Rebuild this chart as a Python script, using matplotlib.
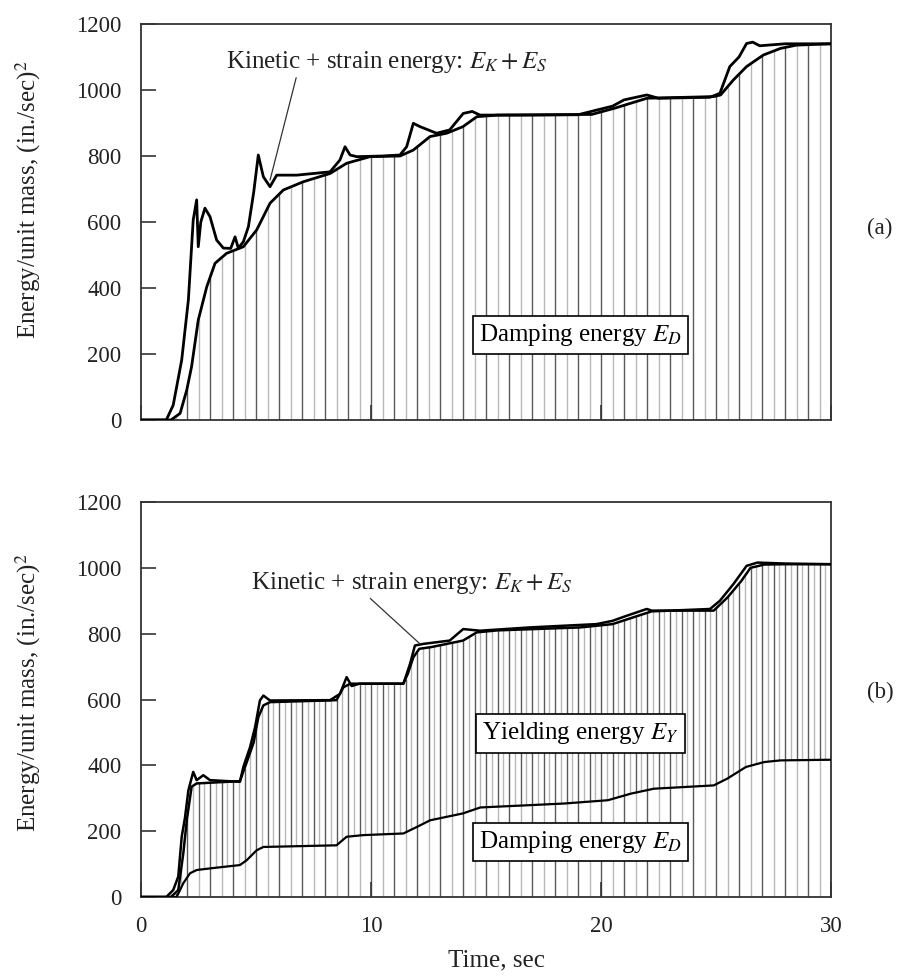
import numpy as np
import matplotlib
matplotlib.use("Agg")
import matplotlib.pyplot as plt

plt.rcParams['font.family'] = ['Liberation Serif', 'DejaVu Serif']
plt.rcParams['mathtext.fontset'] = 'stix'

# ---- panel (a): input energy and damping energy ----
ta_in = [0, 1.1, 1.4, 1.77, 2.06, 2.27, 2.42, 2.49, 2.6, 2.78, 3.0, 3.29, 3.58, 3.9, 4.09, 4.23,
         4.45, 4.67, 4.9, 5.1, 5.32, 5.61, 5.9, 6.77, 8.22, 8.65, 8.87, 9.09, 9.38, 10.5, 11.26,
         11.55, 11.84, 12.13, 12.85, 13.42, 14.01, 14.4, 14.74, 16.9, 19.0, 19.8, 20.5, 21.0,
         21.99, 22.5, 24.74, 25.17, 25.6, 26.0, 26.33, 26.6, 26.9, 28.0, 30.0]
Ea_in = [0, 0, 45, 182, 364, 606, 667, 525, 600, 642, 616, 545, 521, 520, 555, 521,
         540, 586, 690, 803, 737, 707, 742, 742, 752, 788, 828, 803, 798, 800, 803,
         828, 899, 889, 869, 879, 929, 935, 924, 924, 925, 939, 951, 970,
         985, 975, 978, 990, 1071, 1100, 1141, 1145, 1134, 1140, 1140]

ta_d = [0, 1.3, 1.70, 1.99, 2.20, 2.49, 2.86, 3.22, 3.72, 4.45, 5.03, 5.61, 6.19, 7.06, 8.22,
        8.94, 9.96, 11.26, 11.84, 12.57, 13.29, 14.0, 14.6, 15.5, 19.6, 20.6, 22.0, 24.9,
        25.2, 25.75, 26.33, 27.06, 27.8, 28.5, 30.0]
Ea_d = [0, 0, 20, 91, 162, 303, 404, 475, 505, 525, 576, 657, 697, 722, 747,
        778, 798, 800, 818, 859, 869, 889, 919, 924, 926, 945, 975, 980,
        985, 1030, 1071, 1106, 1126, 1136, 1140]

# ---- panel (b): input energy, damping + yielding energy, damping energy ----
tb_in = [0, 1.1, 1.4, 1.62, 1.77, 1.91, 2.06, 2.27, 2.42, 2.71, 3.0, 4.3, 4.45, 4.74, 4.96,
         5.17, 5.32, 5.61, 8.22, 8.65, 8.94, 9.16, 9.5, 11.41, 11.70, 11.91, 12.28, 12.85,
         13.42, 14.01, 14.74, 16.9, 19.8, 20.5, 21.1, 21.99, 22.3, 24.74, 25.17, 25.75,
         26.33, 26.8, 28.0, 30.0]
Eb_in = [0, 0, 21, 62, 183, 240, 324, 380, 355, 370, 355, 350, 395, 455, 516,
         597, 612, 597, 598, 617, 668, 641, 648, 648, 709, 764, 769, 774,
         779, 814, 809, 819, 829, 839, 854, 875, 868, 875, 900, 950,
         1006, 1016, 1013, 1011]

tb_dy = [0, 1.3, 1.62, 1.84, 1.99, 2.2, 2.42, 4.3, 4.6, 4.9, 5.1, 5.32, 5.61, 8.5, 8.8, 9.1,
         11.4, 11.6, 11.84, 12.1, 12.6, 14.0, 14.6, 15.5, 19.1, 20.5, 22.3, 24.9, 25.5,
         26.1, 26.5, 27.1, 28.0, 30.0]
Eb_dy = [0, 0, 21, 133, 233, 335, 345, 352, 410, 470, 546, 582, 592, 598, 637, 648,
         648, 678, 728, 754, 759, 779, 804, 810, 819, 829, 870, 870, 910,
         960, 1000, 1010, 1011, 1011]

tb_d = [0, 1.55, 1.84, 2.13, 2.42, 3.14, 4.3, 4.6, 5.03, 5.32, 8.5, 8.94, 9.67, 11.41, 12.0,
        12.57, 14.0, 14.75, 16.9, 18.4, 20.3, 21.3, 22.3, 24.9, 25.5, 26.3, 27.1, 27.8, 30.0]
Eb_d = [0, 0, 42, 72, 82, 88, 97, 112, 142, 152, 157, 183, 188, 193, 213,
        233, 254, 272, 279, 284, 294, 314, 329, 339, 360, 395, 410, 415, 417]

W, H = 897, 976
fig = plt.figure(figsize=(W / 100, H / 100), dpi=100)
ax1 = fig.add_axes([141 / W, 1 - 420 / H, 690 / W, 396 / H])
ax2 = fig.add_axes([141 / W, 1 - 897 / H, 690 / W, 395 / H])

hatch_cols = ['#5a5a5a', '#b8b8b8']


def hatch(ax, t, E, step, lo=None):
    xs = np.arange(0, 30 + 1e-9, step)
    top = np.interp(xs, t, E)
    bot = np.zeros_like(xs) if lo is None else np.interp(xs, lo[0], lo[1])
    cols = [hatch_cols[i % 2] for i in range(len(xs))]
    ax.vlines(xs, bot, top, colors=cols, linewidth=1.0, zorder=1)


hatch(ax1, ta_d, Ea_d, 0.5)
ax1.plot(ta_in, Ea_in, color='black', lw=2.0, zorder=3)
ax1.plot(ta_d, Ea_d, color='black', lw=2.0, zorder=3)

hatch(ax2, tb_d, Eb_d, 0.5)
hatch(ax2, tb_dy, Eb_dy, 0.25, lo=(tb_d, Eb_d))
ax2.plot(tb_in, Eb_in, color='black', lw=1.8, zorder=3)
ax2.plot(tb_dy, Eb_dy, color='black', lw=1.8, zorder=3)
ax2.plot(tb_d, Eb_d, color='black', lw=1.6, zorder=3)

fs = 18
fs_tick = 16.5
box = dict(boxstyle='square,pad=0.25', facecolor='white', edgecolor='black', linewidth=1.2)

ax1.annotate('Kinetic + strain energy: $E_K + E_S$', xy=(5.61, 727), xytext=(3.7, 1085),
             fontsize=fs, ha='left', va='center', color='#222222',
             arrowprops=dict(arrowstyle='-', color='#333333', lw=0.9,
                             shrinkA=0, shrinkB=0, relpos=(0.22, 0)))
ax1.text(19.1, 258, 'Damping energy $E_D$', fontsize=fs, ha='center', va='center',
         bbox=box, zorder=5)

ax2.annotate('Kinetic + strain energy: $E_K + E_S$', xy=(12.13, 769), xytext=(4.8, 955),
             fontsize=fs, ha='left', va='center', color='#222222',
             arrowprops=dict(arrowstyle='-', color='#333333', lw=0.9,
                             shrinkA=0, shrinkB=0, relpos=(0.36, 0)))
ax2.text(19.1, 497, 'Yielding energy $E_Y$', fontsize=fs, ha='center', va='center',
         bbox=box, zorder=5)
ax2.text(19.1, 167, 'Damping energy $E_D$', fontsize=fs, ha='center', va='center',
         bbox=box, zorder=5)

for ax in (ax1, ax2):
    ax.set_xlim(0, 30)
    ax.set_ylim(0, 1200)
    ax.set_yticks([0, 200, 400, 600, 800, 1000, 1200])
    ax.set_xticks([0, 10, 20, 30])
    ax.tick_params(direction='in', length=11, width=1.2, color='#333333',
                   labelsize=fs_tick, pad=14, labelcolor='#222222')
    for s in ax.spines.values():
        s.set_color('#333333')
        s.set_linewidth(1.3)

ax1.set_xticklabels([])
ax2.set_xlabel('Time, sec', fontsize=fs, color='#222222')
ax2.xaxis.set_label_coords(0.515, -0.132)

fig.text(28 / W, 1 - 200 / H, 'Energy/unit mass, (in./sec)$^2$', rotation=90,
         ha='center', va='center', fontsize=fs, color='#222222')
fig.text(28 / W, 1 - 693 / H, 'Energy/unit mass, (in./sec)$^2$', rotation=90,
         ha='center', va='center', fontsize=fs, color='#222222')
fig.text(880 / W, 1 - 228 / H, '(a)', ha='center', va='center', fontsize=fs_tick, color='#222222')
fig.text(880 / W, 1 - 692 / H, '(b)', ha='center', va='center', fontsize=fs_tick, color='#222222')

fig.savefig('out.png', dpi=100)
